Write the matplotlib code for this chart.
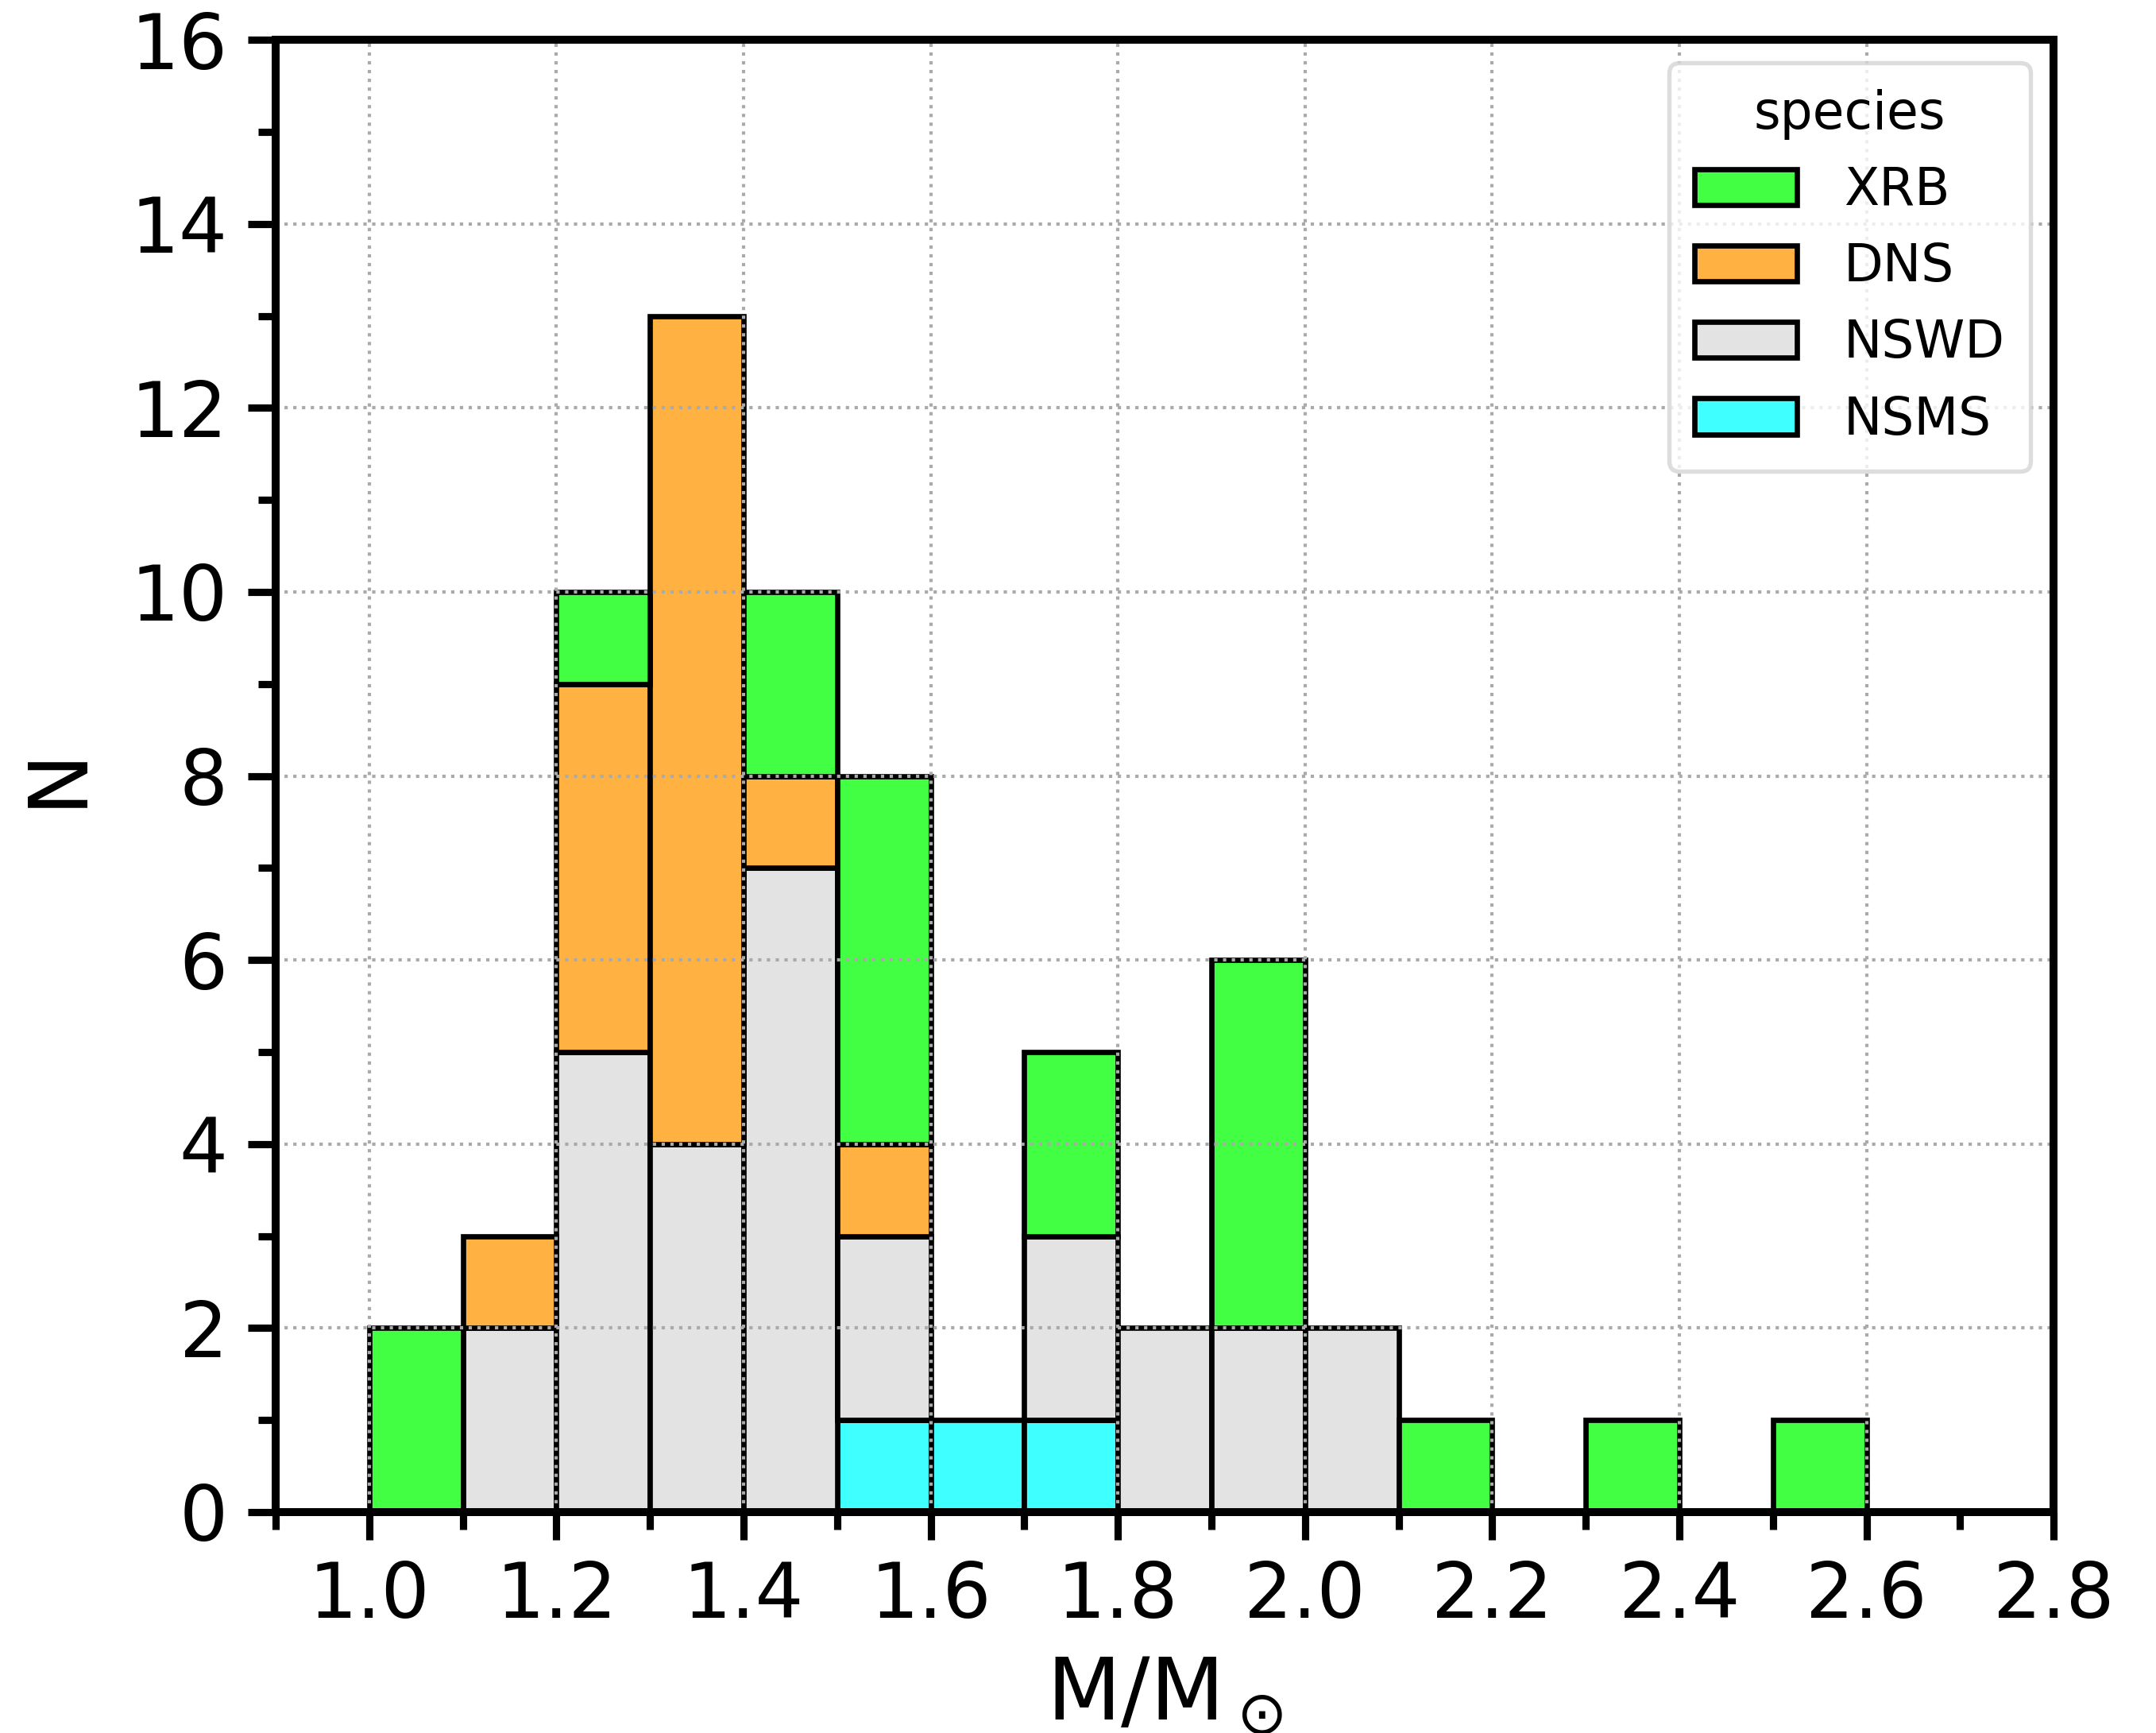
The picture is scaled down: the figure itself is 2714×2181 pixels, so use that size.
import numpy as np
import matplotlib.pyplot as plt
from matplotlib.ticker import MultipleLocator

# bins of width 0.1 (left edges)
bin_left = [1.0, 1.1, 1.2, 1.3, 1.4, 1.5, 1.6, 1.7, 1.8, 1.9, 2.0, 2.1, 2.2, 2.3, 2.4, 2.5]
bin_width = 0.1

# counts per species, stacked bottom -> top: NSMS, NSWD, DNS, XRB
nsms = [0, 0, 0, 0, 0, 1, 1, 1, 0, 0, 0, 0, 0, 0, 0, 0]
nswd = [0, 2, 5, 4, 7, 2, 0, 2, 2, 2, 2, 0, 0, 0, 0, 0]
dns = [0, 1, 4, 9, 1, 1, 0, 0, 0, 0, 0, 0, 0, 0, 0, 0]
xrb = [2, 0, 1, 0, 2, 4, 0, 2, 0, 4, 0, 1, 0, 1, 0, 1]

species = ['XRB', 'DNS', 'NSWD', 'NSMS']
colors = {'XRB': '#43ff43', 'DNS': '#ffb142', 'NSWD': '#e3e3e3', 'NSMS': '#40ffff'}
counts = {'XRB': xrb, 'DNS': dns, 'NSWD': nswd, 'NSMS': nsms}

fig = plt.figure(figsize=(2714 / 300, 2181 / 300), dpi=300)
ax = fig.add_axes([0.1279, 0.1275, 0.9525 - 0.1279, 0.977 - 0.1275])

x = np.array(bin_left)
bottom = np.zeros(len(x))
handles = {}
for sp in ['NSMS', 'NSWD', 'DNS', 'XRB']:
    h = np.array(counts[sp], dtype=float)
    m = h > 0
    bars = ax.bar(x[m], h[m], width=bin_width, bottom=bottom[m], align='edge',
                  color=colors[sp], edgecolor='black', linewidth=1.6, label=sp, zorder=1)
    handles[sp] = bars
    bottom += h

ax.set_xlim(0.9, 2.8)
ax.set_ylim(0, 16)
ax.xaxis.set_major_locator(MultipleLocator(0.2))
ax.xaxis.set_minor_locator(MultipleLocator(0.1))
ax.yaxis.set_major_locator(MultipleLocator(2))
ax.yaxis.set_minor_locator(MultipleLocator(1))
ax.set_xticks(np.arange(1.0, 2.81, 0.2))
ax.set_xticklabels([f'{v:.1f}' for v in np.arange(1.0, 2.81, 0.2)])

ax.grid(True, which='major', linestyle=':', color='#aaaaaa', linewidth=1.0, zorder=3)
ax.set_axisbelow(False)

for s in ax.spines.values():
    s.set_linewidth(2.4)
    s.set_zorder(4)
ax.tick_params(which='major', direction='out', length=8.5, width=2.2, labelsize=23, pad=6)
ax.tick_params(which='minor', direction='out', length=5.2, width=2.2)

ax.set_xlabel(r'M/M$_\odot$', fontsize=26, labelpad=6)
ax.set_ylabel('N', fontsize=25, labelpad=10)

leg = ax.legend([handles[s] for s in species], species, title='species', loc='upper right',
                fontsize=15.5, title_fontsize=15.5, borderaxespad=0.45, labelspacing=0.5,
                handletextpad=0.9, borderpad=0.5)
leg.get_frame().set_edgecolor('#d5d5d5')
leg.get_frame().set_linewidth(1.3)
leg.set_zorder(5)

fig.savefig('out.png', dpi=300)
